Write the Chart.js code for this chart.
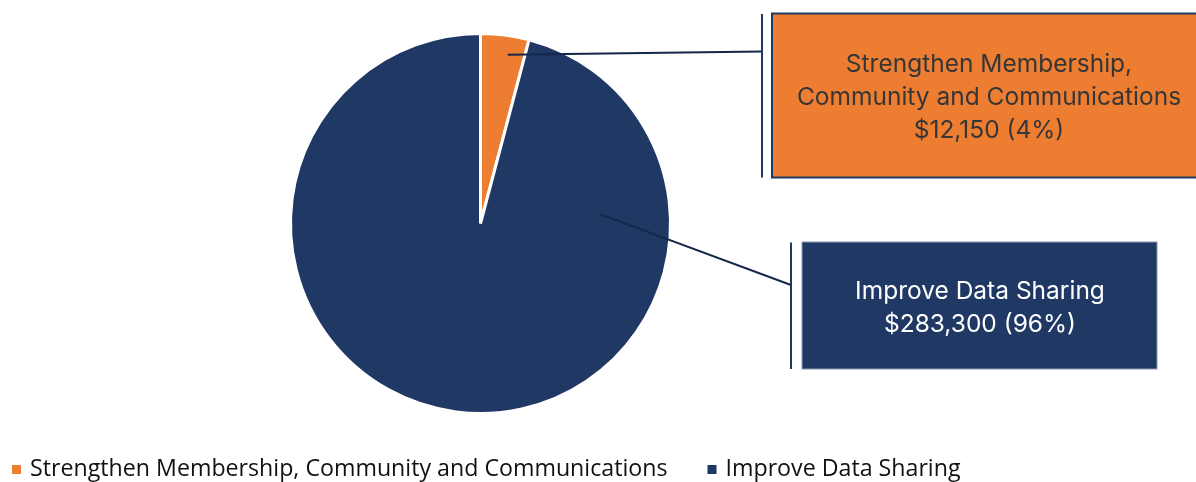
<!DOCTYPE html>
<html>
<head>
<meta charset="utf-8">
<script src="https://cdn.jsdelivr.net/npm/chart.js@4.4.1/dist/chart.umd.min.js"></script>
<style>
  html, body { margin: 0; padding: 0; background: #fff; }
  #wrap { width: 1196px; height: 482px; }
</style>
</head>
<body>
<div id="wrap"><canvas id="chart" width="1196" height="482"></canvas></div>
<script>
// chart data
const categories = ['Strengthen Membership, Community and Communications', 'Improve Data Sharing'];
const amounts = [12150, 283300];
const sliceColors = ['#ED7D31', '#203864'];
// how each category name is wrapped inside its callout box
const calloutNames = [['Strengthen Membership,', 'Community and Communications'], ['Improve Data Sharing']];

const total = amounts.reduce((a, b) => a + b, 0);
const money = (v) => '$' + v.toLocaleString('en-US');
const pct = (v) => Math.round(v / total * 100) + '%';

// callout styling, one per slice
const callouts = [
  { angle: 9.2, frac: 0.9, bar: 762, box: [772, 13.5, 440, 164], fill: '#ED7D31', stroke: '#1F3864', strokeW: 2,
    text: '#363636', cx: 989, base: 72, lh: 33 },
  { angle: 85.5, frac: 0.63, bar: 791, box: [802, 242, 355, 127], fill: '#203864', stroke: '#8A9AB5', strokeW: 1,
    text: '#ffffff', cx: 980, base: 299, lh: 33 }
];

const calloutPlugin = {
  id: 'callouts',
  afterDatasetsDraw(chart) {
    const ctx = chart.ctx;
    const arcs = chart.getDatasetMeta(0).data;
    ctx.save();
    callouts.forEach((c, i) => {
      const arc = arcs[i];
      const a = c.angle * Math.PI / 180;
      const sx = arc.x + Math.sin(a) * arc.outerRadius * c.frac;
      const sy = arc.y - Math.cos(a) * arc.outerRadius * c.frac;
      const [bx, by, bw, bh] = c.box;
      // leader line to the bar beside the box
      const ey = i === 0 ? by + 38 : by + 43;
      ctx.strokeStyle = '#14264A';
      ctx.lineWidth = 2;
      ctx.beginPath();
      ctx.moveTo(sx, sy);
      ctx.lineTo(c.bar, ey);
      ctx.stroke();
      ctx.strokeStyle = '#1F3864';
      ctx.beginPath();
      ctx.moveTo(c.bar, by + 0.5);
      ctx.lineTo(c.bar, by + bh);
      ctx.stroke();
      // box
      ctx.fillStyle = c.fill;
      ctx.fillRect(bx, by, bw, bh);
      ctx.strokeStyle = c.stroke;
      ctx.lineWidth = c.strokeW;
      ctx.strokeRect(bx, by, bw, bh);
      // text
      const lines = calloutNames[i].concat([money(amounts[i]) + ' (' + pct(amounts[i]) + ')']);
      ctx.fillStyle = c.text;
      ctx.font = '24.5px Inter, "Noto Sans", sans-serif';
      ctx.textAlign = 'center';
      ctx.textBaseline = 'alphabetic';
      lines.forEach((ln, k) => ctx.fillText(ln, c.cx, c.base + k * c.lh));
    });
    ctx.restore();
  }
};

const legendPlugin = {
  id: 'bottomLegend',
  afterDraw(chart) {
    const ctx = chart.ctx;
    ctx.save();
    ctx.font = '23.2px "Open Sans", sans-serif';
    ctx.textBaseline = 'middle';
    ctx.textAlign = 'left';
    let x = 12;
    const y = 469.5;
    categories.forEach((name, i) => {
      ctx.fillStyle = sliceColors[i];
      ctx.fillRect(x, y - 4.5, 9, 9);
      x += 18;
      ctx.fillStyle = '#111';
      ctx.fillText(name, x, y);
      x += ctx.measureText(name).width + 40;
    });
    ctx.restore();
  }
};

new Chart(document.getElementById('chart'), {
  type: 'pie',
  data: {
    labels: categories,
    datasets: [{
      data: amounts,
      backgroundColor: sliceColors,
      borderColor: '#ffffff',
      borderWidth: 3
    }]
  },
  options: {
    responsive: false,
    animation: false,
    devicePixelRatio: 1,
    layout: { padding: { left: 289, right: 524, top: 32, bottom: 67 } },
    plugins: {
      legend: { display: false },
      tooltip: { enabled: false }
    }
  },
  plugins: [calloutPlugin, legendPlugin]
});
</script>
</body>
</html>
